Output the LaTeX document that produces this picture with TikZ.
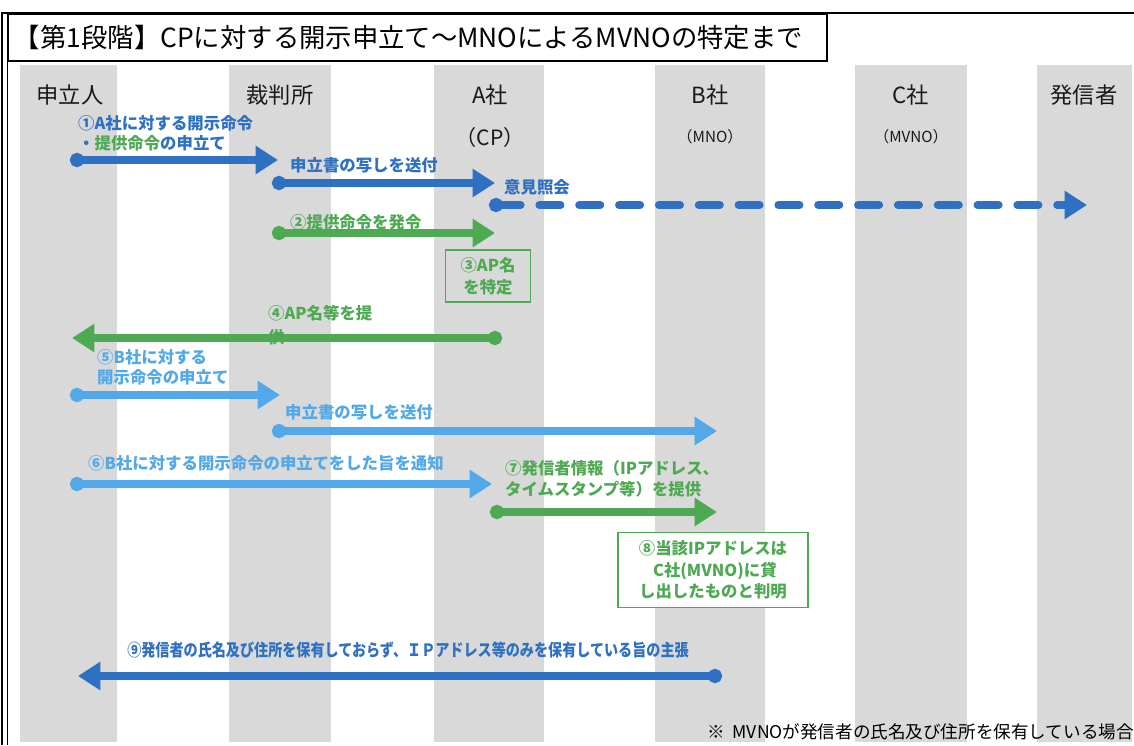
\documentclass[tikz,border=0pt]{standalone}
\usepackage{fontspec}
\setmainfont{Noto Sans CJK JP}
\newfontfamily\narrowjp[FakeStretch=0.83]{Noto Sans CJK JP}
\usetikzlibrary{arrows.meta, positioning}
\definecolor{msgblue}{RGB}{46,112,193}
\definecolor{msggreen}{RGB}{78,170,82}
\definecolor{msglight}{RGB}{82,168,232}
\definecolor{lanegray}{RGB}{217,217,217}
\tikzset{
    header/.style={inner sep=0pt, font=\fontsize{19pt}{22pt}\selectfont, text=black!90},
    subheader/.style={inner sep=0pt, font=\fontsize{18pt}{21pt}\selectfont, text=black!90},
    smallheader/.style={inner sep=0pt, font=\fontsize{13pt}{16pt}\selectfont, text=black!90},
    msglabel/.style={inner sep=0pt, anchor=west, align=left,
                     font=\fontsize{14pt}{17pt}\selectfont\bfseries},
    msg/.style={line width=6.8pt, {Circle[length=12pt]}-{Triangle[length=19pt,width=23pt]}},
    bluemsg/.style={msg, msgblue},
    greenmsg/.style={msg, msggreen},
    lightmsg/.style={msg, msglight},
    dashmsg/.style={bluemsg, line cap=round, dash pattern=on 18pt off 16pt},
    notebox/.style={draw=msggreen, line width=1.5pt, text=msggreen, align=center,
                    font=\fontsize{14pt}{18.5pt}\selectfont\bfseries},
}
\begin{document}
\begin{tikzpicture}[x=0.03cm, y=-0.03cm]
    \useasboundingbox (0,0) rectangle (1134,745);
    % lanes
    \foreach \l/\r in {20/117, 229/331, 434/544, 655/765, 855/967, 1037/1132}
        \fill[lanegray] (\l,65) rectangle (\r,742);

    % frame and title
    \draw[line width=1pt] (2,745) -- (2,13) -- (1134,13);
    \draw[line width=0.6pt] (7,745) -- (7,13);
    \node[draw, line width=1.4pt, anchor=north west, minimum width=24.57cm, minimum height=1.41cm,
          text width=24.2cm, align=left, font=\fontsize{22.5pt}{26pt}\selectfont]
        (title) at (7,13) {【第1段階】CPに対する開示申立て～MNOによるMVNOの特定まで};

    % parties
    \node[header] (applicant) at (70,95) {申立人};
    \node[header] (court) at (280,95) {裁判所};
    \node[header] (compA) at (490,95) {A社};
    \node[header] (compB) at (710,95) {B社};
    \node[header] (compC) at (911,95) {C社};
    \node[header] (sender) at (1084,95) {発信者};
    \node[subheader] (cp) at (490,137) {（CP）};
    \node[smallheader] (mno) at (710,137) {（MNO）};
    \node[smallheader] (mvno) at (911,137) {（MVNO）};

    % A社 (CP)
    \coordinate (m1s) at (70,160);  \coordinate (m1e) at (278,160);
    \coordinate (m2s) at (272,183); \coordinate (m2e) at (495,183);
    \coordinate (m3s) at (489,205); \coordinate (m3e) at (1087,205);
    \coordinate (m4s) at (272,233); \coordinate (m4e) at (495,233);
    \coordinate (m5s) at (502,338); \coordinate (m5e) at (72,338);
    \node[msglabel, text=msgblue] (l1) at (78,133)
        {①A社に対する開示命令\\・\textcolor{msggreen}{提供命令}の申立て};
    \draw[bluemsg] (m1s) -- (m1e);
    \node[msglabel, text=msgblue] (l2) at (290,165) {申立書の写しを送付};
    \draw[bluemsg] (m2s) -- (m2e);
    \node[msglabel, text=msgblue] (l3) at (504,187) {意見照会};
    \draw[dashmsg] (m3s) -- (m3e);
    \node[msglabel, text=msggreen] (l4) at (290,222) {②提供命令を発令};
    \draw[greenmsg] (m4s) -- (m4e);
    \node[notebox, minimum width=2.55cm, minimum height=1.56cm] (apname) at (488,276)
        {③AP名\\を特定};
    \draw[greenmsg] (m5s) -- (m5e);
    \node[msglabel, text=msggreen, font=\fontsize{14pt}{20pt}\selectfont\bfseries] (l5)
        at (268,325) {④AP名等を提\\供};

    % B社 (MNO)
    \coordinate (m6s) at (70,395);  \coordinate (m6e) at (280,395);
    \coordinate (m7s) at (272,431); \coordinate (m7e) at (717,431);
    \coordinate (m8s) at (70,484);  \coordinate (m8e) at (492,484);
    \coordinate (m9s) at (490,512); \coordinate (m9e) at (717,512);
    \node[msglabel, text=msglight] (l6) at (97,367) {⑤B社に対する\\開示命令の申立て};
    \draw[lightmsg] (m6s) -- (m6e);
    \node[msglabel, text=msglight] (l7) at (285,412) {申立書の写しを送付};
    \draw[lightmsg] (m7s) -- (m7e);
    \node[msglabel, text=msglight] (l8) at (88,463) {⑥B社に対する開示命令の申立てをした旨を通知};
    \draw[lightmsg] (m8s) -- (m8e);
    \node[msglabel, text=msggreen, font=\fontsize{14pt}{18pt}\selectfont\bfseries] (l9)
        at (505,479) {⑦発信者情報（IPアドレス、\\タイムスタンプ等）を提供};
    \draw[greenmsg] (m9s) -- (m9e);
    \node[notebox, fill=white, minimum width=5.7cm, minimum height=2.25cm] (ipres) at (713,570)
        {⑧当該IPアドレスは\\\ C社(MVNO)に貸\\し出したものと判明};

    % reply
    \coordinate (m10s) at (722,676); \coordinate (m10e) at (78,676);
    \node[inner sep=0pt, text=msgblue, font=\fontsize{14.5pt}{17pt}\narrowjp\bfseries] (l10) at (408,650)
        {⑨発信者の氏名及び住所を保有しておらず、ＩＰアドレス等のみを保有している旨の主張};
    \draw[bluemsg] (m10s) -- (m10e);
    \node[inner sep=0pt, anchor=east, font=\fontsize{15pt}{18pt}\selectfont] (note) at (1134,732)
        {※\ \ MVNOが発信者の氏名及び住所を保有している場合};
\end{tikzpicture}
\end{document}
